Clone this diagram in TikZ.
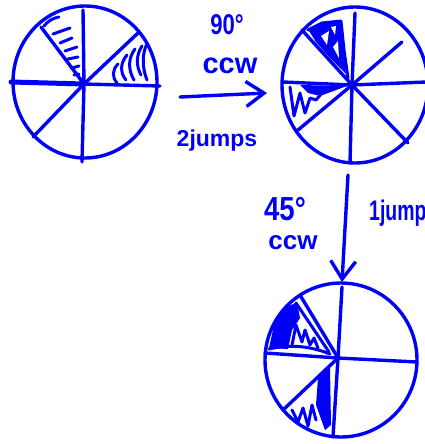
\documentclass[tikz,border=0pt]{standalone}
\usepackage{fontspec}
\setmainfont{Liberation Sans}
\usetikzlibrary{arrows.meta}
\definecolor{ink}{RGB}{0,0,250}
\begin{document}
\begin{tikzpicture}[x=1pt,y=-1pt, line cap=round, line join=round,
  pen/.style={draw=ink, line width=3.4pt},
  hatch/.style={draw=ink, line width=3pt},
  lbl/.style={text=ink, inner sep=0pt},
  arr/.style={pen, -{Straight Barb[length=18pt,width=25pt]}}]
\useasboundingbox (0,0) rectangle (425,444);
\clip (0,0) rectangle (425,444);

% ---------- circle 1 ----------
\coordinate (c1) at (84,84);
\draw[pen] (85,82) ellipse [x radius=72, y radius=76];
\draw[pen] (83,10) -- (c1) -- (82,162);
\draw[draw=ink, line width=5pt] (11,82) -- (c1);
\draw[pen] (c1) -- (160,86);
\draw[pen] (41,27) -- (c1);
\draw[pen] (138,33) -- (c1);
\draw[pen] (33,137) -- (c1);
% hatch upper sector
\draw[hatch] (44,26) .. controls (48,21) and (53,18) .. (59,17);
\draw[hatch] (53,34) -- (70,28);
\draw[hatch] (60,43) -- (72,38);
\draw[hatch] (65,51) -- (77,47);
\draw[hatch] (68,59) -- (78,57);
\draw[hatch] (72,68) -- (79,66);
\draw[hatch] (74,75) -- (79,74);
% hatch right sector
\draw[hatch] (118,64) .. controls (112,70) and (112,77) .. (117,83);
\draw[hatch] (127,55) .. controls (120,63) and (120,73) .. (126,80);
\draw[hatch] (135,49) .. controls (128,58) and (128,70) .. (134,80);
\draw[hatch] (142,46) .. controls (136,55) and (136,66) .. (141,75);
\draw[hatch] (147,44) .. controls (142,53) and (142,68) .. (147,80);

% ---------- circle 2 ----------
\coordinate (c2) at (352,85);
\draw[pen] (355,85) ellipse [x radius=73, y radius=78];
\draw[pen] (355,13) -- (c2) -- (350,163);
\draw[pen] (283,82) -- (c2) -- (426,82);
\draw[pen] (302,30) -- (c2);
\draw[pen] (402,42) -- (c2);
\draw[pen] (298,130) -- (c2);
\draw[pen] (408,143) -- (c2);
% shading upper
\fill[ink] (309,31) -- (322,24) -- (340,21) -- (343,45) -- (346,74) -- (330,58) -- (316,42) -- cycle;
\fill[white] (321,36) -- (329,31) -- (327,45) -- cycle;
\fill[white] (333,47) -- (338,41) -- (339,58) -- cycle;
\fill[white] (331,27) -- (336,26) -- (335,35) -- cycle;
\draw[hatch] (308,30) -- (322,23) -- (341,21) -- (344,50) -- (348,78);
% shading lower-left
\fill[ink] (300,85) -- (347,86) -- (320,96) -- (308,93) -- cycle;
\draw[hatch] (290,87) -- (294,116) -- (300,93) -- (305,113) -- (310,98) -- (316,100) -- (322,93);

% ---------- circle 3 ----------
\coordinate (c3) at (338,358);
\draw[pen] (341,360) ellipse [x radius=76, y radius=77];
\draw[pen] (342,287) -- (c3) -- (333,437);
\draw[pen] (265,353) -- (c3) -- (417,362);
\draw[pen] (300,295) -- (c3);
\draw[pen] (283,410) -- (c3);
% shading upper-left
\fill[ink] (297,302) -- (285,308) -- (274,325) -- (269,348) -- (288,349) -- (292,330) -- (300,318) -- cycle;
\draw[hatch] (292,345) -- (296,325) -- (302,342) -- (305,330) -- (310,345) -- (314,338) -- (318,348);
\draw[hatch] (296,303) -- (329,352);
\draw[hatch] (269,349) .. controls (290,344) and (310,346) .. (330,354);
% shading lower
\fill[ink] (318,378) -- (330,367) -- (331,425) -- (325,430) -- (316,405) -- cycle;
\draw[hatch] (292,410) -- (298,422) -- (303,408) -- (308,426) -- (312,405) -- (316,420);

% ---------- arrows ----------
\coordinate (a1s) at (180,97);
\coordinate (a1e) at (267,93);
\draw[arr] (a1s) -- (a1e);
\coordinate (a2s) at (348,175);
\coordinate (a2e) at (342,282);
\draw[arr] (a2s) -- (a2e);

% ---------- labels ----------
\node[lbl, font=\bfseries\fontsize{26}{26}\selectfont] (t90) at (227,25) {\scalebox{0.85}[1.1]{90°}};
\node[lbl, font=\bfseries\fontsize{29}{29}\selectfont] (tccw1) at (230,66) {ccw};
\node[lbl, font=\bfseries\fontsize{23}{23}\selectfont] (tj2) at (217,141) {2jumps};
\node[lbl, font=\bfseries\fontsize{29}{29}\selectfont] (t45) at (285,209) {\scalebox{0.95}[1.15]{45°}};
\node[lbl, font=\bfseries\fontsize{26}{26}\selectfont] (tccw2) at (293,243) {ccw};
\node[lbl, anchor=west, font=\bfseries\fontsize{27}{27}\selectfont] (tj1) at (369,213) {\scalebox{0.72}[1.05]{1jump}};
\end{tikzpicture}
\end{document}
